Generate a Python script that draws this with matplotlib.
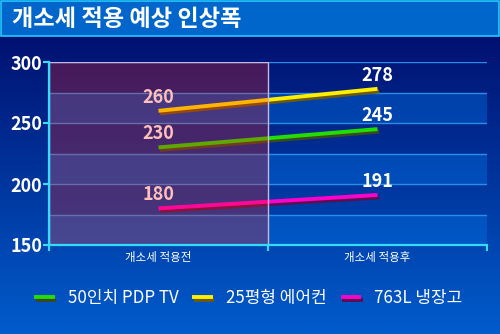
import numpy as np
import matplotlib
matplotlib.use("Agg")
import matplotlib.pyplot as plt
import matplotlib.patheffects as pe
from matplotlib.patches import Rectangle

plt.rcParams['font.family'] = ['Noto Sans CJK KR', 'DejaVu Sans']

## data ##
title = "개소세 적용 예상 인상폭"
categories = ["개소세 적용전", "개소세 적용후"]
series_names = ["50인치 PDP TV", "25평형 에어컨", "763L 냉장고"]
tv = [230, 245]
aircon = [260, 278]
fridge = [180, 191]
series_colors = ["#22dd00", "#ffee00", "#ff00cc"]
shadow_colors = ["#3a4a20", "#6a5a10", "#5a1050"]

fig = plt.figure(figsize=(5, 3.34), dpi=100)

## background gradient ##
bg = fig.add_axes([0, 0, 1, 1], zorder=-10)
grad = np.linspace(0, 1, 256).reshape(-1, 1)
top = np.array([0.0, 0.03, 0.40])
bot = np.array([0.0, 0.36, 0.80])
img = top + (bot - top) * grad[:, :, None]
bg.imshow(img, aspect='auto', extent=[0, 1, 0, 1], origin='upper')
bg.set_axis_off()

## title bar ##
fig.patches.append(Rectangle((0.002, 1 - 36 / 334), 0.996, 36 / 334 - 0.003,
                             transform=fig.transFigure, facecolor="#0066cc",
                             edgecolor="#22ccff", linewidth=1.2, zorder=-5))
fig.text(12 / 500, 1 - 19 / 334, title, color="white", fontsize=16.7,
         fontweight="bold", va="center", ha="left")

## plot ##
ax = fig.add_axes([49 / 500, 89 / 334, 438 / 500, 183 / 334])
ax.set_facecolor("none")
ax.set_xlim(-0.5, 1.5)
ax.set_ylim(150, 300)

# alternating bands
for lo in [150, 200, 250]:
    ax.axhspan(lo, lo + 25, color=(0.0, 0.45, 0.9), alpha=0.4, lw=0, zorder=0)
for y in [175, 200, 225, 250, 275, 300]:
    ax.axhline(y, color="#2a8ee8", lw=1.0, zorder=1)

x = np.arange(len(categories))
all_series = [tv, aircon, fridge]
for vals, name, c, sc in zip(all_series, series_names, series_colors, shadow_colors):
    ax.plot(x, vals, color=c, lw=2.8, solid_capstyle="butt", label=name, zorder=3,
            path_effects=[pe.SimpleLineShadow(offset=(1.2, -1.8), shadow_color=sc, alpha=1.0),
                          pe.Normal()])
    for xi, v in zip(x, vals):
        ax.annotate(str(v), (xi, v), xytext=(0, 3), textcoords="offset points",
                    ha="center", va="bottom", color="white", fontsize=13,
                    fontweight="bold", zorder=4)

# purple overlay on the first category
ax.add_patch(Rectangle((-0.5, 150), 1.0, 150, facecolor=(1.0, 0.12, 0.05),
                       alpha=0.28, lw=0, zorder=5))
ax.add_patch(Rectangle((-0.5, 150), 1.0, 150, fill=False, edgecolor="#c8b8e0",
                       lw=1.0, zorder=6))

# axes styling
for s in ["top", "right"]:
    ax.spines[s].set_visible(False)
for s in ["left", "bottom"]:
    ax.spines[s].set_color("#33ddff")
    ax.spines[s].set_linewidth(1.6)
    ax.spines[s].set_zorder(7)

ax.set_yticks([150, 200, 250, 300])
ax.set_yticklabels(["150", "200", "250", "300"], color="white", fontsize=13,
                   fontweight="bold")
ax.tick_params(axis="y", colors="#33ddff", length=4, width=1.5, pad=1,
               labelcolor="white")

ax.set_xticks([-0.5, 0.5, 1.5])
ax.set_xticklabels([])
ax.set_xticks(x, minor=True)
ax.set_xticklabels(categories, minor=True, color="white", fontsize=8.3)
ax.tick_params(axis="x", which="major", colors="#33ddff", length=4, width=1.5)
ax.tick_params(axis="x", which="minor", length=0, pad=4, labelcolor="white")

leg = fig.legend(loc="center", bbox_to_anchor=(0.497, 1 - 298 / 334), ncol=3,
                 frameon=False, fontsize=12.2, handlelength=1.2, handletextpad=0.8,
                 columnspacing=0.8, labelcolor="white")

fig.savefig("out.png", dpi=100)
